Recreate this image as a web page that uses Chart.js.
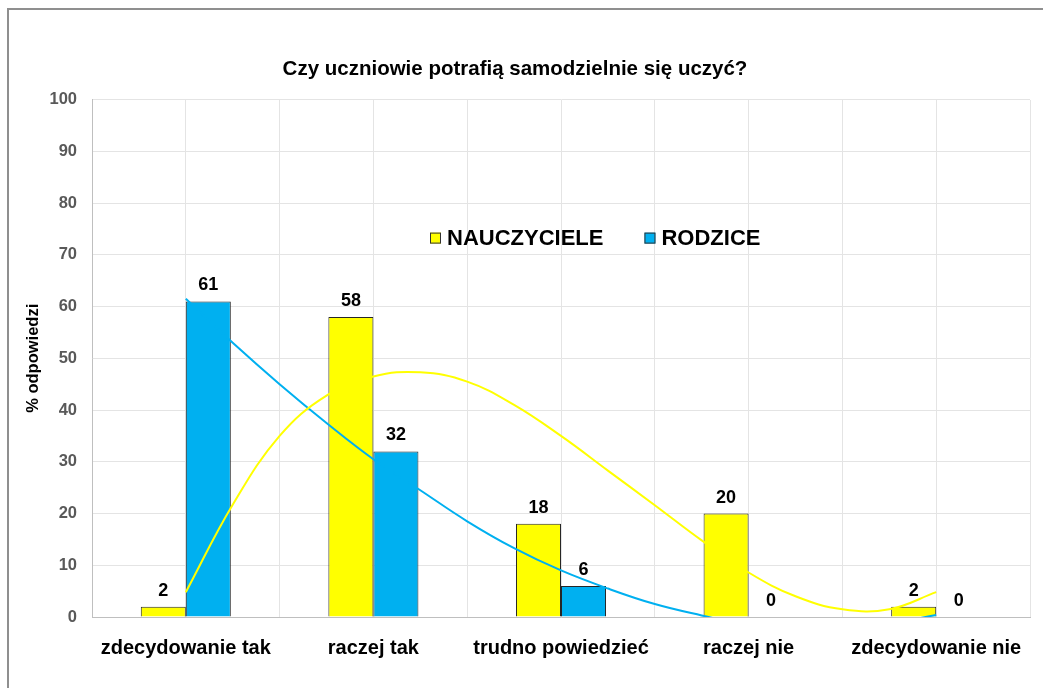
<!DOCTYPE html>
<html>
<head>
<meta charset="utf-8">
<script src="https://cdn.jsdelivr.net/npm/chart.js@4"></script>
<style>
  body { margin: 0; background: #fff; overflow: hidden; }
  #frame { position: absolute; left: 7px; top: 8px; width: 1100px; height: 720px;
           border-top: 2px solid #8f8f8f; border-left: 2px solid #8f8f8f; }
  #chartCanvas { position: absolute; left: 0; top: 0; }
</style>
</head>
<body>
<div id="frame"></div>
<canvas id="chartCanvas" width="1043" height="688"></canvas>
<script>
    // values
    var categories = ['zdecydowanie tak', 'raczej tak', 'trudno powiedzieć', 'raczej nie', 'zdecydowanie nie'];
    var teachers = [2, 58, 18, 20, 2];
    var parents = [61, 32, 6, 0, 0];

    // trend curves, read at quarter-category steps (1 = first category)
    var trendX = [1, 1.25, 1.5, 1.75, 2, 2.25, 2.5, 2.75, 3, 3.25, 3.5, 3.75, 4, 4.25, 4.5, 4.75, 5];
    var teachersTrend = [4.8, 21.7, 35, 42.8, 46.5, 47.3, 45.5, 41, 35, 28.3, 21.6, 14.8, 8.6, 4, 1.5, 1.5, 4.8];
    var parentsTrend = [61.5, 53, 45, 37.5, 30.5, 24.5, 18.5, 13.3, 9, 5.5, 2.5, 0.3, -1.6, -2.3, -2.3, -1.3, 0.4];

    var yMin = 0, yMax = 100, yStep = 10;

    var yellow = '#FFFF00';
    var blue = '#00B0F0';
    var font = '"Liberation Sans", Arial, sans-serif';

    var toPoints = function(xs, ys) {
        return xs.map(function(x, i) { return { x: x, y: ys[i] }; });
    };

    // value labels above bars
    var valueLabels = {
        id: 'valueLabels',
        afterDatasetsDraw: function(chart) {
            var ctx = chart.ctx;
            ctx.save();
            ctx.font = 'bold 18px ' + font;
            ctx.fillStyle = '#000';
            ctx.textAlign = 'center';
            ctx.textBaseline = 'alphabetic';
            chart.data.datasets.forEach(function(ds, i) {
                if (ds.type !== 'bar') return;
                chart.getDatasetMeta(i).data.forEach(function(bar, j) {
                    ctx.fillText(String(ds.data[j]), bar.x, bar.y - 11);
                });
            });
            ctx.restore();
        }
    };

    // legend floating inside the plot
    var innerLegend = {
        id: 'innerLegend',
        afterDraw: function(chart) {
            var ctx = chart.ctx;
            var area = chart.chartArea;
            var x = area.left + 338;
            var y = area.top + 138;
            ctx.save();
            ctx.font = 'bold 22px ' + font;
            ctx.textBaseline = 'middle';
            ctx.textAlign = 'left';
            chart.data.datasets.forEach(function(ds) {
                if (ds.type !== 'bar') return;
                ctx.fillStyle = ds.backgroundColor;
                ctx.fillRect(x, y - 5, 11, 11);
                ctx.strokeStyle = '#333';
                ctx.lineWidth = 1;
                ctx.strokeRect(x + 0.5, y - 4.5, 10, 10);
                ctx.fillStyle = '#000';
                ctx.fillText(ds.label, x + 17, y + 1);
                x += 17 + ctx.measureText(ds.label).width + 41;
            });
            ctx.restore();
        }
    };

    window.onload = function() {
        var ctx = document.getElementById('chartCanvas').getContext('2d');
        window.myChart = new Chart(ctx, {
            data: {
                labels: categories,
                datasets: [
                    {
                        type: 'line',
                        label: 'trend NAUCZYCIELE',
                        data: toPoints(trendX, teachersTrend),
                        xAxisID: 'xt',
                        borderColor: yellow,
                        borderWidth: 2,
                        pointRadius: 0,
                        tension: 0.4,
                        order: 0
                    },
                    {
                        type: 'line',
                        label: 'trend RODZICE',
                        data: toPoints(trendX, parentsTrend),
                        xAxisID: 'xt',
                        borderColor: blue,
                        borderWidth: 2,
                        pointRadius: 0,
                        tension: 0.4,
                        order: 0
                    },
                    {
                        type: 'bar',
                        label: 'NAUCZYCIELE',
                        data: teachers,
                        backgroundColor: yellow,
                        borderColor: '#262626',
                        borderWidth: 1,
                        categoryPercentage: 0.96,
                        barPercentage: 1,
                        order: 1
                    },
                    {
                        type: 'bar',
                        label: 'RODZICE',
                        data: parents,
                        backgroundColor: blue,
                        borderColor: '#262626',
                        borderWidth: 1,
                        categoryPercentage: 0.96,
                        barPercentage: 1,
                        order: 1
                    }
                ]
            },
            options: {
                responsive: false,
                animation: false,
                layout: { padding: { left: 0, right: 13, top: 57, bottom: 0 } },
                plugins: {
                    legend: { display: false },
                    tooltip: { enabled: false },
                    title: {
                        display: true,
                        text: 'Czy uczniowie potrafią samodzielnie się uczyć?',
                        color: '#000',
                        font: { family: font, size: 20.5, weight: 'bold' },
                        padding: { top: 0, bottom: 18 }
                    }
                },
                scales: {
                    x: {
                        type: 'category',
                        offset: true,
                        grid: { display: false },
                        border: { color: '#BFBFBF' },
                        ticks: {
                            color: '#000',
                            padding: 11,
                            maxRotation: 0,
                            font: { family: font, size: 20, weight: 'bold' }
                        },
                        afterFit: function(s) { s.height = 71; }
                    },
                    xt: {
                        type: 'linear',
                        position: 'top',
                        min: 0.5,
                        max: 5.5,
                        ticks: { display: false, stepSize: 0.5 },
                        grid: { color: '#E4E4E4', drawTicks: false },
                        border: { display: false },
                        afterFit: function(s) { s.height = 0; }
                    },
                    y: {
                        min: yMin,
                        max: yMax,
                        ticks: {
                            stepSize: yStep,
                            color: '#595959',
                            padding: 15,
                            font: { family: font, size: 16.5, weight: 'bold' }
                        },
                        grid: { color: '#E4E4E4', drawTicks: false },
                        border: { color: '#BFBFBF' },
                        title: {
                            display: true,
                            text: '% odpowiedzi',
                            color: '#000',
                            padding: { top: 24, bottom: 0 },
                            font: { family: font, size: 16.5, weight: 'bold' }
                        },
                        afterFit: function(s) { s.width = 92; }
                    }
                }
            },
            plugins: [valueLabels, innerLegend]
        });
    };
</script>
</body>
</html>
